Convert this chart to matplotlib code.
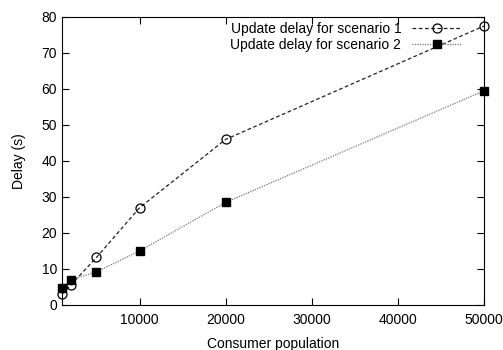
import matplotlib
matplotlib.use('Agg')
import matplotlib.pyplot as plt

plt.rcParams['font.family'] = ['Liberation Sans', 'DejaVu Sans']

# consumer population and measured delays
population = [1000, 2000, 5000, 10000, 20000, 50000]
delay_s1 = [3.0, 5.5, 13.2, 27.0, 46.0, 77.5]
delay_s2 = [4.7, 7.0, 9.2, 15.0, 28.5, 59.5]

fig = plt.figure(figsize=(5.03, 3.5), dpi=100)
ax = fig.add_axes([62 / 503, 45 / 350, 422 / 503, 288 / 350])

ax.plot(population, delay_s1, color='#222222', linestyle=(0, (3, 2)), linewidth=0.9,
        marker='o', markersize=6.5, markerfacecolor='none', markeredgecolor='black',
        markeredgewidth=0.9, label='Update delay for scenario 1', clip_on=False)
ax.plot(population, delay_s2, color='#777777', linestyle=(0, (1, 1)), linewidth=0.9,
        marker='s', markersize=6.3, markerfacecolor='black', markeredgecolor='black',
        label='Update delay for scenario 2', clip_on=False)

ax.set_xlim(1000, 50000)
ax.set_ylim(0, 80)
ax.set_xticks([10000, 20000, 30000, 40000, 50000])
ax.set_yticks(range(0, 81, 10))
ax.tick_params(direction='in', top=True, right=True, length=5, labelsize=10)
ax.tick_params(axis='x', pad=6)
ax.set_xlabel('Consumer population', fontsize=10, labelpad=7)
ax.set_ylabel('Delay (s)', fontsize=10, labelpad=11)

leg = ax.legend(loc='upper right', frameon=False, markerfirst=False, fontsize=10,
                handlelength=3.6, borderaxespad=0.1, labelspacing=0.15,
                bbox_to_anchor=(0.965, 1.008))
for t in leg.get_texts():
    t.set_ha('right')

fig.savefig('out.png', dpi=100)
